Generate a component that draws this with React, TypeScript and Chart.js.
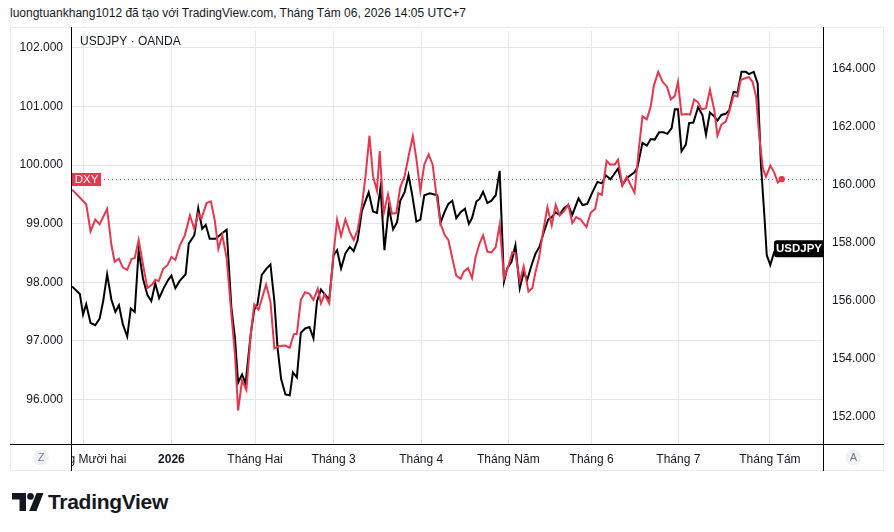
import React, { useEffect, useRef } from "react";
import { Chart, registerables } from "chart.js";

Chart.register(...registerables);

// x = trading-day index from the left edge of the chart
const monthTickDays = [2.97, 25.2, 46.4, 66.3, 88.5, 110.6, 131.7, 153.7, 176.9];
const monthLabels = ["Tháng Mười hai", "2026", "Tháng Hai", "Tháng 3", "Tháng 4", "Tháng Năm", "Tháng 6", "Tháng 7", "Tháng Tám"];
const leftTicks = [96, 97, 98, 99, 100, 101, 102];
const rightTicks = [152, 154, 156, 158, 160, 162, 164];

const dxyDay = [0,1.5,3.6,4.7,5.9,7.0,8.9,10.0,10.8,11.9,12.9,14.0,15.1,15.9,16.9,18.0,19.1,20.3,21.1,22.0,23.1,24.2,25.2,26.2,27.3,28.6,29.9,31.0,32.0,32.8,34.1,35.2,36.2,37.1,38.1,39.2,40.4,41.3,42.1,43.1,44.2,45.4,46.2,47.3,49.2,50.3,51.3,52.6,54.1,55.2,56.2,57.0,58.0,59.1,60.2,61.2,62.3,63.1,64.0,65.2,66.2,67.2,68.2,69.3,70.4,71.4,72.4,73.5,74.4,75.4,76.3,77.3,78.0,79.0,80.1,81.1,82.2,83.2,84.3,85.4,86.4,87.3,88.3,89.3,90.4,91.4,92.3,93.4,94.5,95.4,96.4,97.4,98.5,99.3,100.4,101.4,102.3,103.3,104.2,105.3,106.3,107.4,108.4,109.5,110.6,111.6,112.4,113.5,114.5,115.7,116.7,117.5,118.4,119.4,120.5,121.6,122.6,123.6,124.7,125.8,126.8,127.8,128.9,130.4,131.5,132.6,133.4,134.3,135.5,136.4,137.6,138.4,139.5,140.6,141.6,142.6,143.7,144.6,145.7,146.7,147.5,148.6,149.7,150.8,151.8,152.8,153.6,154.5,155.8,156.7,157.7,158.7,159.6,160.7,161.7,162.8,163.6,164.6,165.7,166.6,167.7,168.7,169.5,170.6,171.6,172.5,173.4,174.2,175.1,175.9,177.0,178.0,178.9,179.9];
const dxyVal = [99.58,99.48,99.33,98.87,99.07,98.99,99.25,98.63,98.35,98.40,98.25,98.21,98.40,98.41,98.72,98.30,97.90,97.96,98.04,98.02,98.23,98.29,98.43,98.38,98.62,98.80,99.14,98.91,99.17,99.08,99.35,99.38,99.05,98.57,98.80,98.41,97.45,96.77,95.81,96.32,96.16,97.17,97.62,97.53,97.96,97.67,96.87,96.91,96.92,96.88,97.11,97.12,97.70,97.83,97.80,97.70,97.89,97.64,97.79,97.64,98.43,99.07,98.79,99.07,98.86,98.72,98.89,99.32,99.81,100.50,99.81,99.56,100.24,99.17,99.50,99.17,99.18,99.62,99.81,100.18,100.49,100.10,99.56,100.01,100.18,100.01,99.53,99.00,98.80,98.72,98.41,98.11,98.06,98.18,98.24,98.07,98.43,98.66,98.80,98.52,98.51,98.60,98.98,98.07,98.27,98.51,98.49,98.02,98.27,97.84,97.90,98.18,98.42,98.86,99.28,98.97,99.32,99.14,99.21,99.32,99.01,99.11,99.07,98.94,99.19,99.25,99.52,99.49,100.07,100.01,100.01,100.09,99.65,99.80,99.66,99.53,100.29,100.83,100.78,101.00,101.36,101.59,101.42,101.34,101.12,101.18,101.42,100.86,100.87,100.86,101.12,101.07,100.95,100.97,101.28,100.94,100.50,100.69,100.74,100.91,101.19,101.17,101.45,101.48,101.50,101.42,101.17,100.49,99.95,99.80,99.99,99.87,99.70,99.76];

const jpyDay = [0,2.0,2.8,3.6,4.7,5.9,7.0,7.9,8.9,10.0,11.0,11.9,12.9,14.0,14.9,15.9,16.9,18.0,19.1,20.1,21.1,22.1,23.3,24.4,25.2,26.2,27.3,28.8,29.6,31.0,32.0,33.0,33.9,34.9,36.4,37.9,39.2,40.4,41.3,42.1,43.1,44.0,45.3,46.2,47.0,48.1,49.2,50.3,51.3,52.1,53.0,54.1,55.2,56.0,57.0,58.0,59.1,60.2,61.2,62.1,63.1,64.2,65.2,66.3,67.2,68.2,69.3,70.4,71.4,72.4,73.5,75.2,76.3,77.3,78.2,79.2,80.3,81.4,82.4,83.2,84.3,85.3,86.2,87.3,88.3,89.3,90.7,92.6,93.4,94.5,95.4,96.4,97.4,98.5,99.6,100.6,101.4,102.5,103.3,104.2,105.3,106.3,107.4,108.4,109.5,110.3,111.4,112.4,113.5,114.5,115.4,116.5,117.5,118.5,119.6,120.7,121.6,122.6,123.6,124.7,125.8,126.8,128.4,129.4,130.6,131.9,133.2,134.3,135.3,136.5,138.4,139.5,140.8,142.5,143.3,144.6,145.7,146.7,147.7,148.8,149.9,150.9,152.0,152.8,153.6,154.5,155.6,156.4,157.5,158.7,159.8,160.7,161.7,162.8,163.6,164.6,165.7,166.6,167.7,168.7,169.7,170.8,171.6,172.8,173.8,174.6,175.5,176.1,177.0,178.0,179.7];
const jpyVal = [156.48,156.22,155.51,155.87,155.22,155.14,155.37,155.97,156.90,156.02,155.60,155.83,155.17,154.75,155.72,155.60,157.73,156.74,156.19,155.97,156.59,156.08,156.44,156.71,156.85,156.42,156.67,156.90,157.96,158.25,159.18,158.47,158.61,158.13,158.13,158.30,158.44,155.74,154.71,153.16,153.44,153.13,154.83,155.68,155.85,156.88,157.08,157.24,155.97,154.37,153.29,152.75,152.72,153.51,153.34,154.88,155.03,155.08,154.69,155.97,156.37,156.19,156.02,157.56,157.73,157.10,157.62,157.85,157.70,158.08,159.10,159.73,159.07,159.02,159.90,157.73,159.21,158.45,158.70,159.44,159.73,160.32,159.67,158.72,158.79,159.63,159.70,159.63,158.68,159.07,159.33,159.44,158.84,159.04,159.16,158.64,158.84,159.41,159.50,159.75,159.36,159.44,159.63,160.47,156.65,157.10,157.33,157.90,156.42,156.97,156.71,157.22,157.62,157.85,158.36,158.79,158.87,159.04,158.95,159.18,159.29,158.95,159.52,159.29,159.33,159.73,160.09,160.04,160.32,160.18,160.55,159.98,160.24,160.41,160.58,161.44,161.34,161.57,161.55,161.80,161.80,161.75,161.95,162.60,162.60,161.15,161.38,162.12,162.14,162.67,162.40,161.72,162.49,162.35,162.21,162.40,162.44,162.57,163.20,163.17,163.89,163.89,163.81,163.89,163.49,160.75,158.93,157.56,157.22,157.68,157.78];

const RED = "#e5384f";
const TEXT = "#131722";
const GRID = "#e6e7ea";
const FRAME = "#e9eaee";
const FONT = '"Liberation Sans", Arial, sans-serif';

const noPad = (s: any) => {
  s.paddingTop = 0;
  s.paddingBottom = 0;
  s.paddingLeft = 0;
  s.paddingRight = 0;
};

const overlay = {
  id: "overlay",
  beforeDatasetsDraw(chart: any) {
    const { ctx, chartArea: a } = chart;
    const y = Math.round(chart.scales.yL.getPixelForValue(dxyVal[dxyVal.length - 1])) + 0.5;
    ctx.save();
    ctx.strokeStyle = RED;
    ctx.lineWidth = 1;
    ctx.setLineDash([1, 3]);
    ctx.beginPath();
    ctx.moveTo(a.left, y);
    ctx.lineTo(a.right, y);
    ctx.stroke();
    ctx.restore();
  },
  afterDraw(chart: any) {
    const { ctx, chartArea: a, width: w, height: h } = chart;
    ctx.save();
    // clip x labels to the plot columns
    ctx.fillStyle = "#ffffff";
    ctx.fillRect(0, a.bottom + 1, Math.round(a.left) - 1, h - a.bottom - 1);
    ctx.fillRect(Math.round(a.right) + 1, a.bottom + 1, w - a.right, h - a.bottom - 1);
    // frame
    ctx.strokeStyle = FRAME;
    ctx.lineWidth = 1;
    ctx.strokeRect(0.5, 0.5, w - 1, h - 1);
    // axis lines
    ctx.strokeStyle = "#000000";
    ctx.beginPath();
    const lx = Math.round(a.left) - 0.5;
    const rx = Math.round(a.right) + 0.5;
    const by = Math.round(a.bottom) + 0.5;
    ctx.moveTo(lx, 0); ctx.lineTo(lx, h);
    ctx.moveTo(rx, 0); ctx.lineTo(rx, h);
    ctx.moveTo(0, by); ctx.lineTo(w, by);
    ctx.stroke();
    // Z / A buttons
    const cy = (a.bottom + h) / 2;
    const btn = (x: number, t: string) => {
      ctx.fillStyle = "#f0f1f4";
      ctx.beginPath();
      ctx.arc(x, cy, 8, 0, Math.PI * 2);
      ctx.fill();
      ctx.fillStyle = "#787b86";
      ctx.font = `11px ${FONT}`;
      ctx.textAlign = "center";
      ctx.textBaseline = "middle";
      ctx.fillText(t, x, cy + 0.5);
    };
    btn(a.left / 2, "Z");
    btn((a.right + w) / 2, "A");
    // series title
    ctx.fillStyle = TEXT;
    ctx.font = `12px ${FONT}`;
    ctx.textAlign = "left";
    ctx.textBaseline = "middle";
    ctx.fillText("USDJPY · OANDA", a.left + 8, 15);
    // DXY label
    const dy = Math.round(chart.scales.yL.getPixelForValue(dxyVal[dxyVal.length - 1])) + 0.5;
    ctx.fillStyle = RED;
    ctx.fillRect(Math.round(a.left), dy - 6.5, 29, 13);
    ctx.fillStyle = "#ffffff";
    ctx.font = `11.5px ${FONT}`;
    ctx.textAlign = "center";
    ctx.fillText("DXY", Math.round(a.left) + 14.5, dy + 0.5);
    // USDJPY label
    const jy = chart.scales.yR.getPixelForValue(jpyVal[jpyVal.length - 1]);
    ctx.fillStyle = "#000000";
    ctx.beginPath();
    ctx.roundRect(Math.round(a.right) - 49, jy - 8.5, 50, 17, [3, 0, 0, 3]);
    ctx.fill();
    ctx.fillStyle = "#ffffff";
    ctx.font = `bold 11.5px ${FONT}`;
    ctx.fillText("USDJPY", Math.round(a.right) - 24, jy + 0.5);
    ctx.restore();
  },
};

export default function App() {
  const ref = useRef<HTMLCanvasElement | null>(null);
  useEffect(() => {
    if (!ref.current) return;
    const chart = new Chart(ref.current, {
      type: "line",
      data: {
        datasets: [
          {
            label: "DXY",
            data: dxyDay.map((d, i) => ({ x: d, y: dxyVal[i] })),
            yAxisID: "yL",
            borderColor: RED,
            backgroundColor: RED,
            borderWidth: 2,
            tension: 0,
            pointRadius: (c: any) => (c.dataIndex === dxyDay.length - 1 ? 3.2 : 0),
            pointBorderWidth: 0,
            pointBackgroundColor: RED,
          },
          {
            label: "USDJPY",
            data: jpyDay.map((d, i) => ({ x: d, y: jpyVal[i] })),
            yAxisID: "yR",
            borderColor: "#000000",
            borderWidth: 2,
            tension: 0,
            pointRadius: 0,
          },
        ],
      },
      options: {
        animation: false,
        responsive: true,
        maintainAspectRatio: false,
        events: [],
        layout: { padding: 0 },
        plugins: { legend: { display: false }, tooltip: { enabled: false } },
        scales: {
          x: {
            type: "linear",
            position: "bottom",
            min: 0,
            max: 190.36,
            afterBuildTicks: (s: any) => {
              s.ticks = monthTickDays.map((v) => ({ value: v }));
            },
            afterFit: (s: any) => {
              s.height = 27;
              noPad(s);
            },
            grid: { color: GRID, drawTicks: false, lineWidth: 1 },
            border: { display: false },
            ticks: {
              autoSkip: false,
              maxRotation: 0,
              padding: 8,
              color: TEXT,
              font: (c: any) => ({ family: FONT, size: 12, weight: c.index === 1 ? "bold" : "normal" }),
              callback: (_v: any, i: number) => monthLabels[i],
            },
          },
          yL: {
            type: "linear",
            position: "left",
            min: 95.239,
            max: 102.287,
            afterBuildTicks: (s: any) => {
              s.ticks = leftTicks.map((v) => ({ value: v }));
            },
            afterFit: (s: any) => {
              s.width = 62;
              noPad(s);
            },
            grid: { color: GRID, drawTicks: false, lineWidth: 1 },
            border: { display: false },
            ticks: {
              padding: 9,
              color: TEXT,
              font: { family: FONT, size: 12 },
              callback: (v: any) => Number(v).toFixed(3),
            },
          },
          yR: {
            type: "linear",
            position: "right",
            min: 151.04,
            max: 165.3,
            afterBuildTicks: (s: any) => {
              s.ticks = rightTicks.map((v) => ({ value: v }));
            },
            afterFit: (s: any) => {
              s.width = 61;
              noPad(s);
            },
            grid: { display: false, drawTicks: false },
            border: { display: false },
            ticks: {
              padding: 9,
              color: TEXT,
              font: { family: FONT, size: 12 },
              callback: (v: any) => Number(v).toFixed(3),
            },
          },
        },
      },
      plugins: [overlay],
    } as any);
    return () => chart.destroy();
  }, []);

  return (
    <div style={{ position: "fixed", left: 0, top: 0, width: 894, height: 532, background: "#fff", fontFamily: FONT, color: TEXT }}>
      <div style={{ position: "absolute", left: 10, top: 5, fontSize: 12, lineHeight: "16px", whiteSpace: "nowrap" }}>
        luongtuankhang1012 đã tạo với TradingView.com, Tháng Tám 06, 2026 14:05 UTC+7
      </div>
      <div style={{ position: "absolute", left: 10, top: 27, width: 874, height: 444 }}>
        <canvas ref={ref} />
      </div>
      <svg style={{ position: "absolute", left: 12, top: 493 }} width="32" height="18" viewBox="0 0 32 18">
        <path d="M0 0 H14 V18 H7.5 V6.5 H0 Z" fill="#131722" />
        <circle cx="18.5" cy="3.4" r="3.3" fill="#131722" />
        <path d="M24.5 0 H31.5 L24.5 18 H17.2 Z" fill="#131722" />
      </svg>
      <div style={{ position: "absolute", left: 48, top: 489, fontSize: 21, fontWeight: 700, lineHeight: "26px", letterSpacing: -0.3, whiteSpace: "nowrap" }}>
        TradingView
      </div>
    </div>
  );
}
